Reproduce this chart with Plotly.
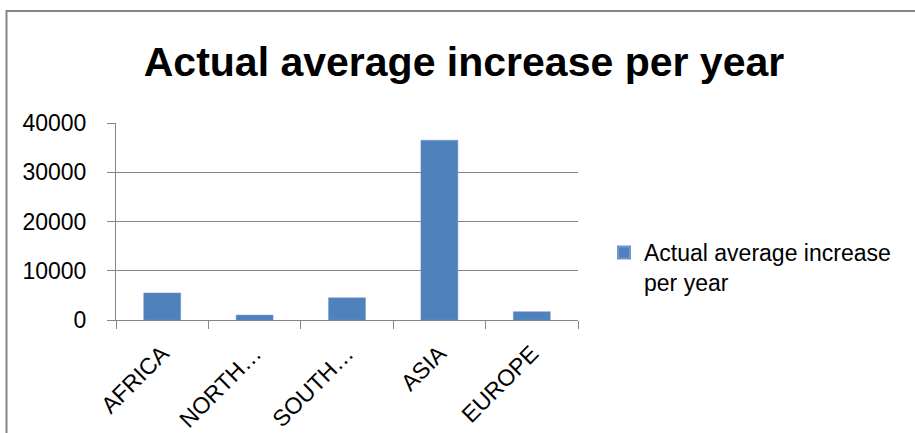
import plotly.graph_objects as go

categories = ["AFRICA", "NORTH AMERICA", "SOUTH AMERICA", "ASIA", "EUROPE"]
tick_labels = ["AFRICA", "NORTH…", "SOUTH…", "ASIA", "EUROPE"]
values = [5500, 1000, 4500, 36500, 1700]
series_name = "Actual average increase per year"
y_ticks = [0, 10000, 20000, 30000, 40000]

W, H = 915, 433
L, R, T, B = 116, 578, 123, 320
pw, ph = R - L, B - T

FONT = "Liberation Sans, Arial, sans-serif"
GRAY = "#868686"

fig = go.Figure()
fig.add_trace(go.Bar(
    x=categories, y=values, name="Actual average increase<br>per year",
    marker=dict(color="#4F81BD", line=dict(color="#6f97cc", width=0.5)),
    showlegend=True,
))

fig.update_layout(
    width=W, height=H,
    margin=dict(l=L, r=W - R, t=T, b=H - B, pad=0, autoexpand=False),
    paper_bgcolor="white", plot_bgcolor="white",
    bargap=0.6,
    font=dict(family=FONT, size=23, color="black"),
    title=dict(text="<b>" + series_name + "</b>", x=464 / W, xanchor="center",
               y=1 - 62 / H, yanchor="middle", yref="container",
               font=dict(family=FONT, size=41, color="black")),
    showlegend=True,
    legend=dict(x=(604 - L) / pw, xanchor="left", y=(B - 231) / ph, yanchor="top",
                font=dict(family=FONT, size=23, color="black"),
                valign="top", bgcolor="rgba(0,0,0,0)", itemsizing="constant"),
    xaxis=dict(
        type="category",
        tickvals=categories, ticktext=tick_labels,
        tickangle=-45,
        automargin=False,
        showline=True, linecolor=GRAY, linewidth=1,
        ticks="outside", ticklen=8, tickcolor=GRAY, tickwidth=1,
        tickson="boundaries",
        showgrid=False,
        ticklabelstandoff=10,
        tickfont=dict(family=FONT, size=23, color="black"),
    ),
    yaxis=dict(
        range=[0, 40000], tickvals=y_ticks,
        automargin=False,
        showline=True, linecolor=GRAY, linewidth=1,
        ticks="outside", ticklen=8, tickcolor=GRAY, tickwidth=1,
        showgrid=True, gridcolor=GRAY, gridwidth=1,
        zeroline=False,
        tickformat="d",
        ticklabelstandoff=16,
        tickfont=dict(family=FONT, size=23, color="black"),
    ),
    shapes=[dict(type="rect", xref="paper", yref="paper",
                 x0=(6.5 - L) / pw, x1=2.0, y0=-2.0, y1=(B - 11) / ph,
                 line=dict(color=GRAY, width=2), fillcolor="rgba(0,0,0,0)",
                 layer="below")],
)

fig.write_html("out.html")
